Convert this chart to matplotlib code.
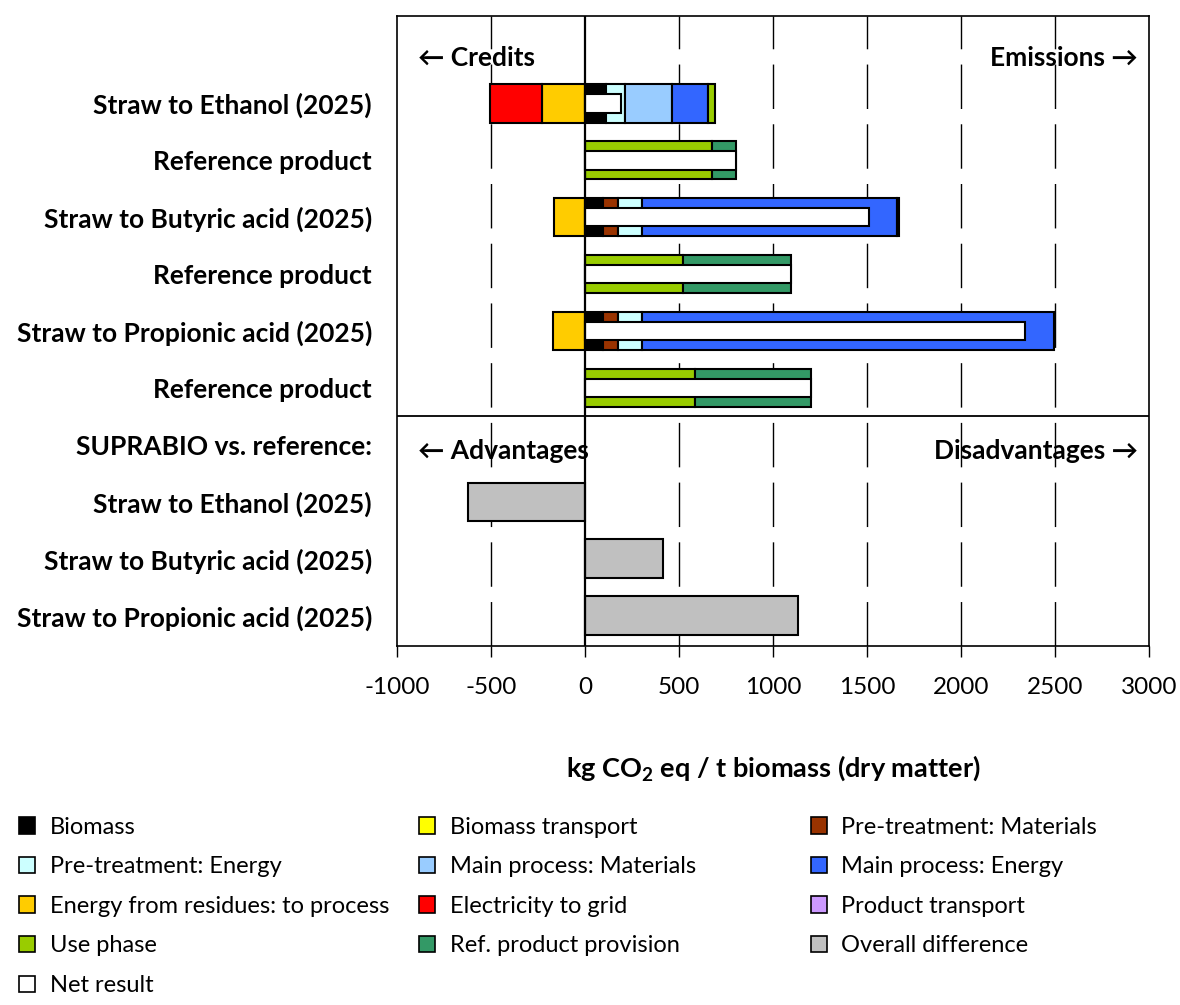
import matplotlib.pyplot as plt
from matplotlib.patches import Patch
import numpy as np

plt.rcParams['font.family'] = ['Lato', 'DejaVu Sans']
plt.rcParams['mathtext.fontset'] = 'custom'
plt.rcParams['mathtext.bf'] = 'Lato:bold'
plt.rcParams['mathtext.rm'] = 'Lato'
plt.rcParams['axes.unicode_minus'] = False

# rows of the upper panel (top to bottom)
rows = ['Straw to Ethanol (2025)', 'Reference product',
        'Straw to Butyric acid (2025)', 'Reference product',
        'Straw to Propionic acid (2025)', 'Reference product']

# contributions, kg CO2 eq / t biomass, one value per row
biomass          = [110, 0, 96, 0, 96, 0]
biomass_transp   = [0, 0, 0, 0, 0, 0]
pre_materials    = [0, 0, 80, 0, 80, 0]
pre_energy       = [103, 0, 127, 0, 127, 0]
main_materials   = [250, 0, 0, 0, 0, 0]
main_energy      = [190, 0, 1357, 0, 2190, 0]
residues_energy  = [-229, 0, -165, 0, -172, 0]
electricity_grid = [-276, 0, 0, 0, 0, 0]
product_transp   = [0, 0, 0, 0, 0, 0]
use_phase        = [37, 676, 8, 520, 0, 585]
ref_provision    = [0, 127, 0, 575, 0, 615]
net_result       = [190, 803, 1510, 1095, 2340, 1200]

# lower panel
diff_rows = ['Straw to Ethanol (2025)', 'Straw to Butyric acid (2025)',
             'Straw to Propionic acid (2025)']
overall_diff = [-620, 415, 1135]

series = [
    ('Biomass', biomass, '#000000'),
    ('Biomass transport', biomass_transp, '#FFFF00'),
    ('Pre-treatment: Materials', pre_materials, '#993300'),
    ('Pre-treatment: Energy', pre_energy, '#CCFFFF'),
    ('Main process: Materials', main_materials, '#99CCFF'),
    ('Main process: Energy', main_energy, '#3366FF'),
    ('Energy from residues: to process', residues_energy, '#FFCC00'),
    ('Electricity to grid', electricity_grid, '#FF0000'),
    ('Product transport', product_transp, '#CC99FF'),
    ('Use phase', use_phase, '#99CC00'),
    ('Ref. product provision', ref_provision, '#339966'),
]

fig = plt.figure(figsize=(11.8, 10.05), dpi=100)
ax = fig.add_axes([397/1180, 1-646/1005, 752/1180, 630/1005])

ypos = np.arange(1, 7)
pos_left = np.zeros(6)
neg_left = np.zeros(6)
for name, vals, col in series:
    v = np.array(vals, dtype=float)
    left = np.where(v >= 0, pos_left, neg_left)
    mask = v != 0
    ax.barh(ypos[mask], v[mask], left=left[mask], height=0.68, color=col,
            edgecolor='black', linewidth=1.5, zorder=3)
    pos_left += np.where(v > 0, v, 0)
    neg_left += np.where(v < 0, v, 0)

ax.barh(ypos, net_result, height=0.33, color='white', edgecolor='black',
        linewidth=1.5, zorder=4)

ydiff = np.arange(8, 11)
ax.barh(ydiff, overall_diff, height=0.68, color='#C0C0C0', edgecolor='black',
        linewidth=1.5, zorder=3)

ax.set_xlim(-1000, 3000)
ax.set_ylim(10.53, -0.53)
ax.set_xticks(np.arange(-1000, 3001, 500))
ax.tick_params(axis='x', labelsize=17.5, direction='out', length=8, width=1,
               pad=14)
for x in [-500, 500, 1000, 1500, 2000, 2500]:
    ax.axvline(x, color='black', lw=1, ls=(0, (32, 11)), zorder=1)
ax.axvline(0, color='black', lw=1.6, zorder=5)
ax.axhline(6.5, color='black', lw=1.3, zorder=5)

ax.set_yticks(list(ypos) + [7] + list(ydiff))
ax.set_yticklabels(rows + ['SUPRABIO vs. reference:'] + diff_rows,
                   fontsize=19, fontweight='bold')
ax.tick_params(axis='y', length=0, pad=18)
for s in ax.spines.values():
    s.set_linewidth(1.2)

ax.text(-890, 0.2, '← Credits', fontsize=19, fontweight='bold', va='center')
ax.text(2940, 0.2, 'Emissions →', fontsize=19, fontweight='bold',
        va='center', ha='right')
ax.text(-890, 7.1, '← Advantages', fontsize=19, fontweight='bold', va='center')
ax.text(2940, 7.1, 'Disadvantages →', fontsize=19, fontweight='bold',
        va='center', ha='right')

ax.set_xlabel(r'kg CO$_\mathbf{2}$ eq / t biomass (dry matter)', fontsize=19.5,
              fontweight='bold', labelpad=40)

# legend: three columns, filled row by row
entries = [(n, c) for n, v, c in series] + [('Overall difference', '#C0C0C0'),
                                            ('Net result', 'white')]
handles = [Patch(facecolor=c, edgecolor='black', linewidth=1.2, label=n)
           for n, c in entries]
col_x = [0.002, 0.341, 0.673]
for c in range(3):
    hs = handles[c::3]
    fig.legend(handles=hs, loc='upper left', bbox_to_anchor=(col_x[c], 0.204),
               ncol=1, frameon=False, fontsize=17, handlelength=0.7,
               handleheight=0.7, handletextpad=0.6, labelspacing=0.79,
               borderpad=0.2)

fig.savefig('out.png', dpi=100)
